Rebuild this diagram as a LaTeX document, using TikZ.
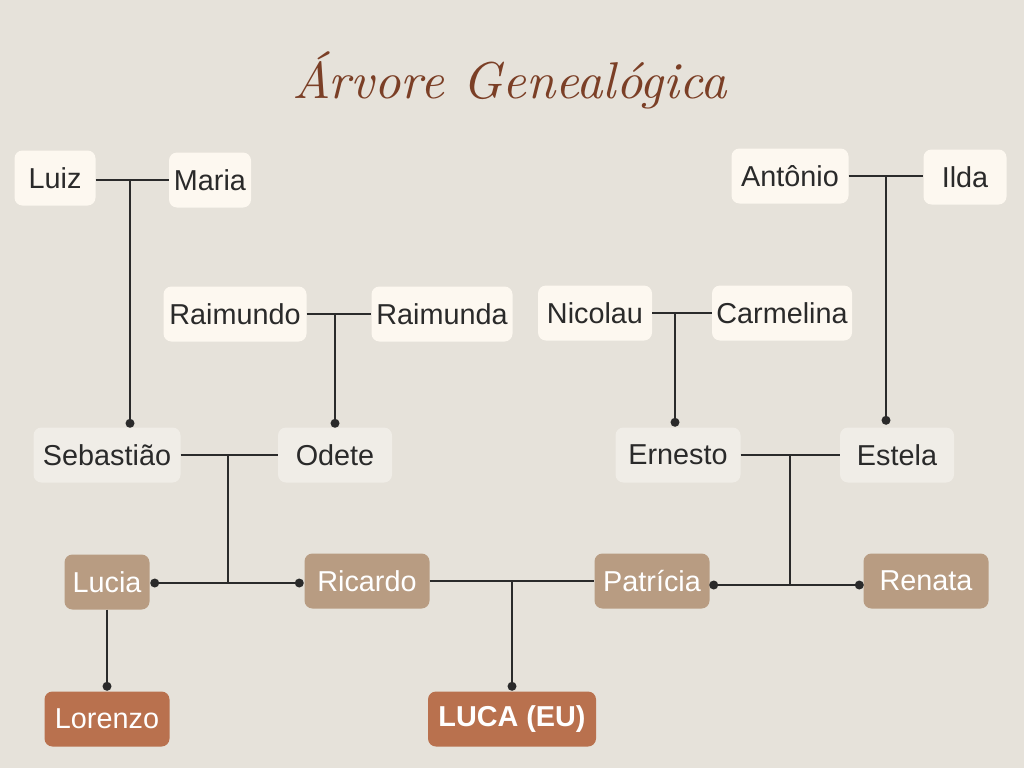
\documentclass[tikz,border=0pt]{standalone}
\usepackage{fontspec}
\newfontfamily\namefont{Liberation Sans}
\usetikzlibrary{calc}
\definecolor{bg}{HTML}{E6E2DA}
\definecolor{cream}{HTML}{FDF8F0}
\definecolor{pale}{HTML}{F0EDE7}
\definecolor{tan}{HTML}{B89C82}
\definecolor{rust}{HTML}{B9714E}
\definecolor{ink}{HTML}{2A2A2A}
\definecolor{titlec}{HTML}{7B3F26}
\begin{document}
\begin{tikzpicture}[x=1pt,y=-1pt,
  person/.style={rounded corners=8pt, minimum height=55pt, inner sep=0pt,
    font=\namefont\fontsize{28.8}{34}\selectfont},
  elder/.style={person, fill=cream, text=ink},
  parent/.style={person, fill=pale, text=ink},
  kid/.style={person, fill=tan, text=white},
  me/.style={person, fill=rust, text=white},
  link/.style={draw=ink, line width=2pt},
  dot/.style={circle, fill=ink, inner sep=0pt, minimum size=9pt}]
\useasboundingbox (0,0) rectangle (1024,768);
\fill[bg] (0,0) rectangle (1024,768);

\node[text=titlec] (title) at (510,80) {\resizebox{434pt}{!}{\itshape Árvore Genealógica}};

% grandparents
\node[elder, minimum width=81pt] (luiz) at (55,178) {Luiz};
\node[elder, minimum width=82pt] (maria) at (210,180) {Maria};
\node[elder, minimum width=117pt] (antonio) at (790,176) {Antônio};
\node[elder, minimum width=83pt] (ilda) at (965,177) {Ilda};
\node[elder, minimum width=143pt] (raimundo) at (235,314) {Raimundo};
\node[elder, minimum width=141pt] (raimunda) at (442,314) {Raimunda};
\node[elder, minimum width=114pt] (nicolau) at (595,313) {Nicolau};
\node[elder, minimum width=140pt] (carmelina) at (782,313) {Carmelina};

% parents generation
\node[parent, minimum width=147pt] (seb) at (107,455) {Sebastião};
\node[parent, minimum width=114pt] (odete) at (335,455) {Odete};
\node[parent, minimum width=125pt] (ernesto) at (678,455) {Ernesto};
\node[parent, minimum width=114pt] (estela) at (897,455) {Estela};

% children
\node[kid, minimum width=85pt] (lucia) at (107,582) {Lucia};
\node[kid, minimum width=125pt] (ricardo) at (367,581) {Ricardo};
\node[kid, minimum width=115pt] (patricia) at (652,581) {Patrícia};
\node[kid, minimum width=125pt] (renata) at (926,581) {Renata};

% grandchildren
\node[me, minimum width=125pt] (lorenzo) at (107,719) {Lorenzo};
\node[me, minimum width=168pt] (luca) at (512,719) {\bfseries LUCA (EU)};

% junctions
\coordinate (j1) at (130,180);
\coordinate (j2) at (335,314);
\coordinate (j3) at (675,313);
\coordinate (j4) at (886,176);
\coordinate (j5) at (228,455);
\coordinate (j6) at (512,581);
\coordinate (j7) at (790,455);

% Luiz + Maria -> Sebastião
\draw[link] (luiz.east |- j1) -- (maria.west |- j1);
\draw[link] (j1) -- ($(j1 |- seb.north)+(0,-4)$) node[dot] {};
% Raimundo + Raimunda -> Odete
\draw[link] (raimundo.east |- j2) -- (raimunda.west |- j2);
\draw[link] (j2) -- ($(j2 |- odete.north)+(0,-4)$) node[dot] {};
% Nicolau + Carmelina -> Ernesto
\draw[link] (nicolau.east |- j3) -- (carmelina.west |- j3);
\draw[link] (j3) -- ($(j3 |- ernesto.north)+(0,-5)$) node[dot] {};
% Antônio + Ilda -> Estela
\draw[link] (antonio.east |- j4) -- (ilda.west |- j4);
\draw[link] (j4) -- ($(j4 |- estela.north)+(0,-7)$) node[dot] {};

% Sebastião + Odete -> Lucia, Ricardo
\draw[link] (seb.east |- j5) -- (odete.west |- j5);
\coordinate (b5) at (228,583);
\draw[link] (j5) -- (b5);
\draw[link] ($(lucia.east |- b5)+(5,0)$) node[dot] {} -- ($(ricardo.west |- b5)+(-5,0)$) node[dot] {};

% Ernesto + Estela -> Patrícia, Renata
\draw[link] (ernesto.east |- j7) -- (estela.west |- j7);
\coordinate (b7) at (790,585);
\draw[link] (j7) -- (b7);
\draw[link] ($(patricia.east |- b7)+(4,0)$) node[dot] {} -- ($(renata.west |- b7)+(-4,0)$) node[dot] {};

% Ricardo + Patrícia -> Luca
\draw[link] (ricardo.east |- j6) -- (patricia.west |- j6);
\draw[link] (j6) -- ($(j6 |- luca.north)+(0,-5)$) node[dot] {};

% Lucia -> Lorenzo
\draw[link] (lucia.south) -- ($(lorenzo.north)+(0,-5)$) node[dot] {};
\end{tikzpicture}
\end{document}
